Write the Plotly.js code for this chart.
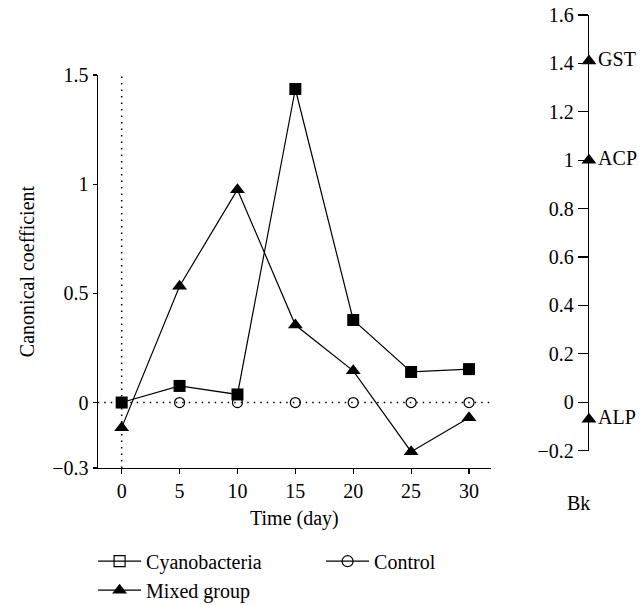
<!DOCTYPE html>
<html>
<head>
<meta charset="utf-8">
<script src="https://cdn.plot.ly/plotly-3.0.1.min.js"></script>
<style>html,body{margin:0;padding:0;background:#fff;}#chart{width:642px;height:605px;}</style>
</head>
<body>
<div id="chart"></div>
<script>
// ---- data ----
const days = [0, 5, 10, 15, 20, 25, 30];
const cyanobacteria = [0, 0.076, 0.037, 1.436, 0.378, 0.14, 0.153];
const mixedGroup = [-0.115, 0.533, 0.975, 0.355, 0.145, -0.225, -0.07];
const controlDays = [5, 10, 15, 20, 25, 30];
const control = [0, 0, 0, 0, 0, 0];
const leftTicks = [-0.3, 0, 0.5, 1, 1.5];
const leftTickText = ['\u22120.3', '0', '0.5', '1', '1.5'];
const enzymes = ['GST', 'ACP', 'ALP'];
const enzymeCoef = [1.41, 1.0, -0.07];
const rightLabel = 'Bk';

const FONT = 'Liberation Serif, Times New Roman, serif';
const BLACK = '#000';

const traces = [
  // actual data
  {x: days, y: cyanobacteria, mode: 'lines+markers', showlegend: false,
   line: {color: BLACK, width: 1.2},
   marker: {symbol: 'square', size: 12, color: BLACK}, xaxis: 'x', yaxis: 'y', cliponaxis: false},
  {x: days, y: mixedGroup, mode: 'lines+markers', showlegend: false,
   line: {color: BLACK, width: 1.2},
   marker: {symbol: 'triangle-up', size: 13, color: BLACK}, xaxis: 'x', yaxis: 'y', cliponaxis: false},
  {x: controlDays, y: control, mode: 'markers', showlegend: false,
   marker: {symbol: 'circle-open', size: 10, color: BLACK, line: {width: 1.2, color: BLACK}},
   xaxis: 'x', yaxis: 'y', cliponaxis: false},
  // legend entries
  {x: [null], y: [null], name: 'Cyanobacteria', mode: 'lines+markers', legendrank: 1,
   line: {color: BLACK, width: 1.2},
   marker: {symbol: 'square-open', size: 11, color: BLACK, line: {width: 1.2, color: BLACK}}},
  {x: [null], y: [null], name: 'Control', mode: 'lines+markers', legendrank: 2,
   line: {color: BLACK, width: 1.2},
   marker: {symbol: 'circle-open', size: 11, color: BLACK, line: {width: 1.2, color: BLACK}}},
  {x: [null], y: [null], name: 'Mixed group', mode: 'lines+markers', legendrank: 3,
   line: {color: BLACK, width: 1.2},
   marker: {symbol: 'triangle-up', size: 13, color: BLACK}},
  // right panel
  {x: enzymes.map(() => 0), y: enzymeCoef, text: enzymes, mode: 'markers+text',
   textposition: 'middle right', showlegend: false, cliponaxis: false,
   textfont: {family: FONT, size: 20, color: BLACK},
   marker: {symbol: 'triangle-up', size: 13, color: BLACK}, xaxis: 'x2', yaxis: 'y2'}
];

const layout = {
  width: 642, height: 605,
  margin: {l: 0, r: 0, t: 0, b: 0, autoexpand: false},
  paper_bgcolor: '#fff', plot_bgcolor: 'rgba(0,0,0,0)',
  font: {family: FONT, size: 20, color: BLACK},
  showlegend: true,
  legend: {orientation: 'h', x: 0.145, y: 0.1046, xanchor: 'left', yanchor: 'top',
           itemwidth: 43, entrywidth: 170, font: {family: FONT, size: 20, color: BLACK},
           bgcolor: 'rgba(0,0,0,0)', tracegroupgap: 0},
  xaxis: {domain: [0.1522, 0.7648], range: [-2.07, 31.9], tickvals: days, automargin: false,
          showgrid: false, zeroline: false, showline: true, linecolor: BLACK, linewidth: 1.2,
          ticks: 'outside', ticklen: 5, tickcolor: BLACK, tickwidth: 1.2,
          tickfont: {family: FONT, size: 20, color: BLACK},
          title: {text: 'Time (day)', font: {family: FONT, size: 20, color: BLACK}, standoff: 9},
          anchor: 'y', fixedrange: true},
  yaxis: {domain: [0.2264, 0.876], range: [-0.3, 1.5], tickvals: leftTicks, ticktext: leftTickText,
          automargin: false,
          showgrid: false, zeroline: false, showline: true, linecolor: BLACK, linewidth: 1.2,
          ticks: 'outside', ticklen: 4, tickcolor: BLACK, tickwidth: 1.2,
          tickfont: {family: FONT, size: 20, color: BLACK},
          title: {text: 'Canonical coefficient', font: {family: FONT, size: 20, color: BLACK}, standoff: 12},
          anchor: 'x', fixedrange: true},
  xaxis2: {domain: [0.9174, 1.0], range: [0, 1], visible: false, anchor: 'y2', fixedrange: true, automargin: false},
  yaxis2: {domain: [0.255, 0.9752], range: [-0.2, 1.6], dtick: 0.2, tick0: 0, automargin: false,
           showgrid: false, zeroline: false, showline: true, linecolor: BLACK, linewidth: 1.2,
           ticks: 'outside', ticklen: 10, tickcolor: BLACK, tickwidth: 1.2,
           tickfont: {family: FONT, size: 20, color: BLACK},
           anchor: 'x2', fixedrange: true},
  shapes: [
    {type: 'line', xref: 'x domain', yref: 'y', x0: 0, x1: 1, y0: 0, y1: 0,
     line: {color: BLACK, width: 1.5, dash: '1.5px,5px'}, layer: 'below'},
    {type: 'line', xref: 'x', yref: 'y domain', x0: 0, x1: 0, y0: 0, y1: 1,
     line: {color: BLACK, width: 1.5, dash: '1.5px,5px'}, layer: 'below'}
  ],
  annotations: [
    {text: rightLabel, xref: 'paper', yref: 'paper', x: 578 / 642, y: 1 - 503 / 605,
     xanchor: 'center', yanchor: 'middle', showarrow: false,
     font: {family: FONT, size: 20, color: BLACK}}
  ]
};

Plotly.newPlot('chart', traces, layout, {displayModeBar: false, staticPlot: true});
</script>
</body>
</html>
